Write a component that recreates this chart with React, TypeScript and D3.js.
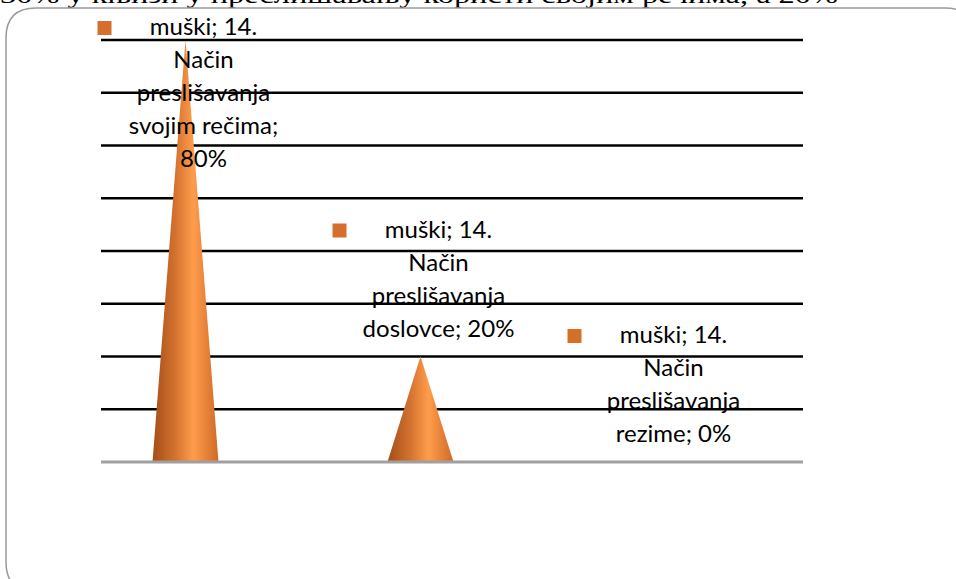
import * as d3 from "d3";

const categories = [
  "Način preslišavanja svojim rečima",
  "Način preslišavanja doslovce",
  "Način preslišavanja rezime",
];
const values = [0.8, 0.2, 0];
const seriesName = "muški; 14.";
const labelLines = [
  ["Način", "preslišavanja", "svojim rečima;", "80%"],
  ["Način", "preslišavanja", "doslovce; 20%"],
  ["Način", "preslišavanja", "rezime; 0%"],
];
const yTicks = [0, 0.1, 0.2, 0.3, 0.4, 0.5, 0.6, 0.7, 0.8];
const pageText = "30% у књизи у преслишавању користи својим речима, а 20%";

const W = 956;
const H = 579;
const font = "Lato, 'Open Sans', sans-serif";

export default function App() {
  const y = d3.scaleLinear().domain([0, 0.8]).range([462, 40]);
  const x = d3.scaleBand().domain(categories).range([68, 773]);
  const half = 33;
  const lh = 33;

  return (
    <div style={{ position: "fixed", left: 0, top: 0 }}>
      <svg width={W} height={H} style={{ display: "block", background: "#fff" }}>
        <defs>
          <linearGradient id="cone" x1="0" x2="1" y1="0" y2="0">
            <stop offset="0%" stopColor="#a34d18" />
            <stop offset="35%" stopColor="#d47330" />
            <stop offset="62%" stopColor="#ff9c4c" />
            <stop offset="100%" stopColor="#cf6a26" />
          </linearGradient>
        </defs>

        {/* page text cut off above the chart */}
        <text
          x={0}
          y={3}
          fontFamily="'Liberation Serif', serif"
          fontSize={24}
          textLength={838}
          lengthAdjust="spacingAndGlyphs"
          fill="#000"
        >
          {pageText}
        </text>

        {/* chart frame */}
        <path
          d="M36,592 Q6,592 6,562 L6,38 Q6,8 36,8 L945,8 Q975,8 975,38 L975,600"
          fill="none"
          stroke="#9a9a9a"
          strokeWidth={1.5}
        />

        {/* gridlines */}
        {yTicks.slice(1).map((t) => (
          <line key={t} x1={101} x2={803} y1={y(t)} y2={y(t)} stroke="#000" strokeWidth={2.5} />
        ))}

        {/* cones */}
        {categories.map((c, i) => {
          const cx = x(c)! + x.bandwidth() / 2;
          if (values[i] <= 0) return null;
          return (
            <path
              key={c}
              d={`M${cx - half},${y(0)} L${cx},${y(values[i])} L${cx + half},${y(0)} Z`}
              fill="url(#cone)"
            />
          );
        })}

        {/* base line */}
        <line x1={101} x2={803} y1={y(0)} y2={y(0)} stroke="#a0a0a0" strokeWidth={3} />

        {/* data labels */}
        {categories.map((c, i) => {
          const cx = x(c)! + x.bandwidth() / 2 + 18;
          const lines = [seriesName, ...labelLines[i]];
          const top = Math.max(35, y(values[i]) - 20 - (lines.length - 1) * lh);
          return (
            <g key={c}>
              <rect x={cx - 106} y={top - 14} width={14} height={14} fill="#d4702c" />
              {lines.map((l, j) => (
                <text
                  key={j}
                  x={cx}
                  y={top + j * lh}
                  textAnchor="middle"
                  fontFamily={font}
                  fontSize={24}
                  fill="#000"
                >
                  {l}
                </text>
              ))}
            </g>
          );
        })}
      </svg>
    </div>
  );
}
